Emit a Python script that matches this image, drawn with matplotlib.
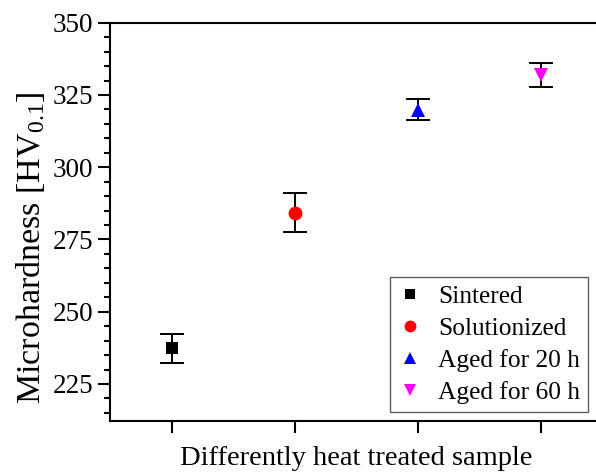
import numpy as np
import matplotlib
matplotlib.use('Agg')
import matplotlib.pyplot as plt
from matplotlib.ticker import MultipleLocator

samples = ['Sintered', 'Solutionized', 'Aged for 20 h', 'Aged for 60 h']
positions = [1, 2, 3, 4]
hardness = [237.3, 284.3, 319.9, 332.0]
errors = [4.9, 6.7, 3.6, 4.2]
markers = ['s', 'o', '^', 'v']
colors = ['black', 'red', 'blue', 'magenta']
msizes = [8, 10, 10, 10]

plt.rcParams['font.family'] = ['Liberation Serif', 'DejaVu Serif']
plt.rcParams['mathtext.fontset'] = 'custom'
plt.rcParams['mathtext.rm'] = 'Liberation Serif'
plt.rcParams['mathtext.it'] = 'Liberation Serif'

fig = plt.figure(figsize=(5.96, 4.72), dpi=100)
# axes run past the right edge, like the cropped original
ax = fig.add_axes([110/596, 1 - 420.7/472, 492/596, 398/472])

for x, y, e, m, c, s, lab in zip(positions, hardness, errors, markers, colors, msizes, samples):
    ax.errorbar(x, y, yerr=e, fmt='none', ecolor='black', elinewidth=1.4,
                capsize=8.5, capthick=1.4, zorder=2)
    ax.plot(x, y, linestyle='none', marker=m, color=c, markersize=s,
            markeredgewidth=0, label=lab, zorder=3)

ax.set_xlim(0.5, 4.5)
ax.set_ylim(212.3, 350)
ax.set_xticks(positions)
ax.set_xticklabels([])
ax.yaxis.set_major_locator(MultipleLocator(25))
ax.yaxis.set_minor_locator(MultipleLocator(5))
ax.set_yticks([225, 250, 275, 300, 325, 350])

for sp in ax.spines.values():
    sp.set_linewidth(1.5)
ax.tick_params(axis='both', which='major', direction='out', length=8.5, width=1.5,
               labelsize=19.5, pad=3.4)
ax.tick_params(axis='y', which='minor', direction='out', length=4, width=1.5)

ax.set_ylabel('Microhardness [HV$_{0.1}$]', fontsize=24.5)
ax.yaxis.set_label_coords(-0.128, 0.434)
ax.set_xlabel('Differently heat treated sample', fontsize=20.5, labelpad=6)

leg = ax.legend(loc='upper left', bbox_to_anchor=(390/596, 1 - 277.3/472),
                bbox_transform=fig.transFigure, fontsize=18.3, frameon=True,
                fancybox=False, edgecolor='#333333', borderpad=0.3,
                handlelength=1.0, handletextpad=0.6, labelspacing=0.36,
                borderaxespad=0, markerscale=0.85)
leg.get_frame().set_linewidth(1.0)

fig.savefig('out.png', dpi=100)
